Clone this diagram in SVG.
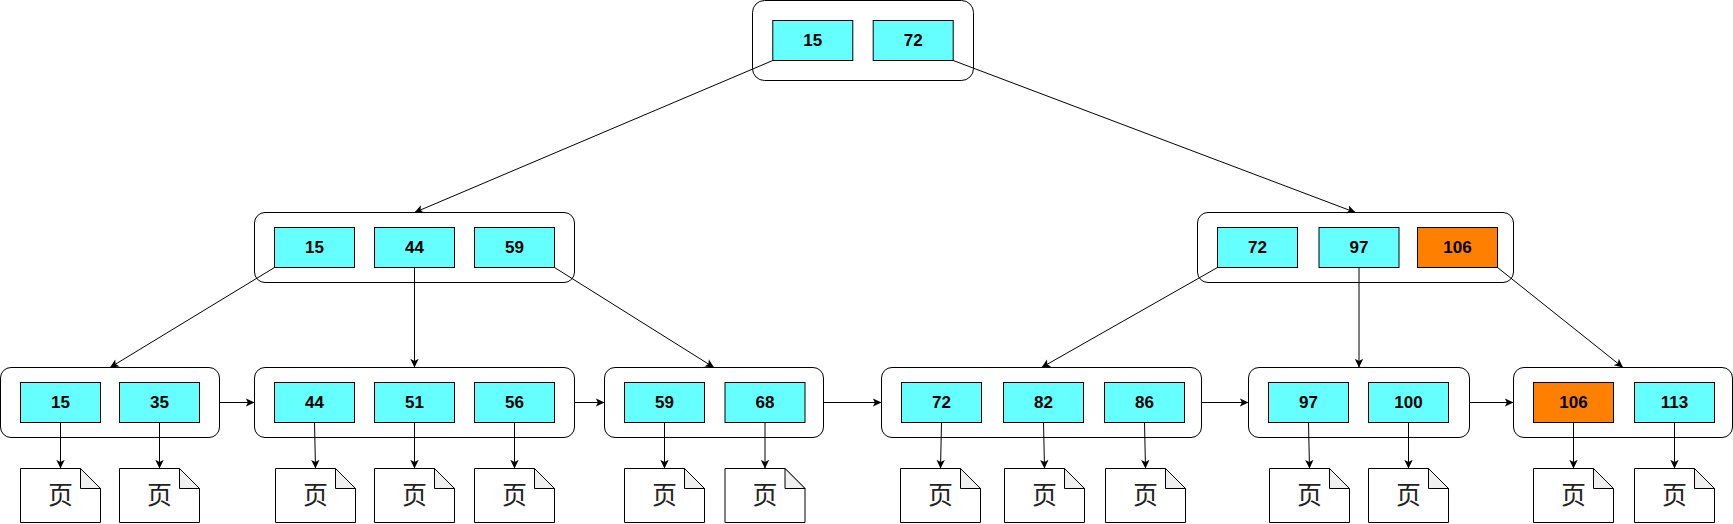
<svg xmlns="http://www.w3.org/2000/svg" width="1733" height="524" viewBox="0 0 1733 524">
<style>
.box{fill:#fff;stroke:#000;stroke-width:1}
.cell{stroke:#000;stroke-width:1}
.c{fill:#66ffff}
.o{fill:#ff8000}
.num{font:bold 17px "Liberation Sans",Arial,sans-serif;text-anchor:middle;fill:#000}
.pg{fill:#fff;stroke:#000;stroke-width:1}
.fold{fill:#f0f0f0;stroke:#000;stroke-width:1}
.ye{font:400 25px "Noto Sans CJK SC","Noto Sans CJK JP",sans-serif;text-anchor:middle;fill:#222}
.ln{fill:none;stroke:#000;stroke-width:1;marker-end:url(#a)}
</style>
<defs>
<marker id="a" markerUnits="userSpaceOnUse" markerWidth="10" markerHeight="10" viewBox="0 0 10 10" refX="9" refY="5" orient="auto"><path d="M9 5L0.3 0.8L2.4 5L0.3 9.2Z" fill="#000"/></marker>
<g id="page"><path class="pg" d="M0 0H60L80 20V54H0Z"/><path class="fold" d="M60 0V20H80Z"/></g>
</defs>
<rect width="1733" height="524" fill="#fff"/>
<g id="n-root"><rect class="box" x="752.5" y="0.5" width="221" height="80" rx="12"/>
<rect class="cell c" x="772.8" y="20.5" width="80" height="40"/><text class="num" x="812.8" y="46">15</text>
<rect class="cell c" x="873.2" y="20.5" width="80" height="40"/><text class="num" x="913.2" y="46">72</text></g>
<g id="n-midL"><rect class="box" x="254.5" y="212.5" width="320" height="70" rx="10.5"/>
<rect class="cell c" x="274.5" y="227.5" width="80" height="40"/><text class="num" x="314.5" y="253">15</text>
<rect class="cell c" x="374.5" y="227.5" width="80" height="40"/><text class="num" x="414.5" y="253">44</text>
<rect class="cell c" x="474.5" y="227.5" width="80" height="40"/><text class="num" x="514.5" y="253">59</text></g>
<g id="n-midR"><rect class="box" x="1197.5" y="212.5" width="316" height="70" rx="10.5"/>
<rect class="cell c" x="1217.5" y="227.5" width="80" height="40"/><text class="num" x="1257.5" y="253">72</text>
<rect class="cell c" x="1319" y="227.5" width="80" height="40"/><text class="num" x="1359" y="253">97</text>
<rect class="cell o" x="1417.5" y="227.5" width="80" height="40"/><text class="num" x="1457.5" y="253">106</text></g>
<g id="n-leaf1"><rect class="box" x="0.5" y="367.5" width="219" height="70" rx="10.5"/>
<rect class="cell c" x="20.5" y="382.5" width="80" height="40"/><text class="num" x="60.5" y="408">15</text>
<rect class="cell c" x="119.5" y="382.5" width="80" height="40"/><text class="num" x="159.5" y="408">35</text></g>
<g id="n-leaf2"><rect class="box" x="254.5" y="367.5" width="320" height="70" rx="10.5"/>
<rect class="cell c" x="274.5" y="382.5" width="80" height="40"/><text class="num" x="314.5" y="408">44</text>
<rect class="cell c" x="374.5" y="382.5" width="80" height="40"/><text class="num" x="414.5" y="408">51</text>
<rect class="cell c" x="474.5" y="382.5" width="80" height="40"/><text class="num" x="514.5" y="408">56</text></g>
<g id="n-leaf3"><rect class="box" x="604.5" y="367.5" width="219" height="70" rx="10.5"/>
<rect class="cell c" x="624.5" y="382.5" width="80" height="40"/><text class="num" x="664.5" y="408">59</text>
<rect class="cell c" x="725" y="382.5" width="80" height="40"/><text class="num" x="765" y="408">68</text></g>
<g id="n-leaf4"><rect class="box" x="881.5" y="367.5" width="320" height="70" rx="10.5"/>
<rect class="cell c" x="901.5" y="382.5" width="80" height="40"/><text class="num" x="941.5" y="408">72</text>
<rect class="cell c" x="1003.5" y="382.5" width="80" height="40"/><text class="num" x="1043.5" y="408">82</text>
<rect class="cell c" x="1104.5" y="382.5" width="80" height="40"/><text class="num" x="1144.5" y="408">86</text></g>
<g id="n-leaf5"><rect class="box" x="1248.5" y="367.5" width="221" height="70" rx="10.5"/>
<rect class="cell c" x="1268.5" y="382.5" width="80" height="40"/><text class="num" x="1308.5" y="408">97</text>
<rect class="cell c" x="1368.5" y="382.5" width="80" height="40"/><text class="num" x="1408.5" y="408">100</text></g>
<g id="n-leaf6"><rect class="box" x="1513.5" y="367.5" width="219" height="70" rx="10.5"/>
<rect class="cell o" x="1533.5" y="382.5" width="80" height="40"/><text class="num" x="1573.5" y="408">106</text>
<rect class="cell c" x="1634.5" y="382.5" width="80" height="40"/><text class="num" x="1674.5" y="408">113</text></g>
<g id="connectors">
<path class="ln" d="M772.8 60.5L414.5 212.5"/>
<path class="ln" d="M953.2 60.5L1355.5 212.5"/>
<path class="ln" d="M274.5 267.5L110 367.5"/>
<path class="ln" d="M414.5 267.5V367.5"/>
<path class="ln" d="M554.5 267.5L714 367.5"/>
<path class="ln" d="M1217.5 267.5L1041.5 367.5"/>
<path class="ln" d="M1359 267.5V367.5"/>
<path class="ln" d="M1497.5 267.5L1623 367.5"/>
<path class="ln" d="M219.5 402.5H254.5"/>
<path class="ln" d="M574.5 402.5H604.5"/>
<path class="ln" d="M823.5 402.5H881.5"/>
<path class="ln" d="M1201.5 402.5H1248.5"/>
<path class="ln" d="M1469.5 402.5H1513.5"/>
<path class="ln" d="M60.5 422.5V468.5"/>
<path class="ln" d="M159.5 422.5V468.5"/>
<path class="ln" d="M314.5 422.5L315.5 468.5"/>
<path class="ln" d="M414.5 422.5V468.5"/>
<path class="ln" d="M514.5 422.5V468.5"/>
<path class="ln" d="M664.5 422.5V468.5"/>
<path class="ln" d="M765 422.5V468.5"/>
<path class="ln" d="M941.5 422.5L940.5 468.5"/>
<path class="ln" d="M1043.5 422.5L1044.5 468.5"/>
<path class="ln" d="M1144.5 422.5L1145.5 468.5"/>
<path class="ln" d="M1308.5 422.5L1309.5 468.5"/>
<path class="ln" d="M1408.5 422.5V468.5"/>
<path class="ln" d="M1573.5 422.5V468.5"/>
<path class="ln" d="M1674.5 422.5V468.5"/>
</g>
<g id="p1"><use href="#page" x="20.5" y="468.5"/><text class="ye" x="60.5" y="504">页</text></g>
<g id="p2"><use href="#page" x="119.5" y="468.5"/><text class="ye" x="159.5" y="504">页</text></g>
<g id="p3"><use href="#page" x="275.5" y="468.5"/><text class="ye" x="315.5" y="504">页</text></g>
<g id="p4"><use href="#page" x="374.5" y="468.5"/><text class="ye" x="414.5" y="504">页</text></g>
<g id="p5"><use href="#page" x="474.5" y="468.5"/><text class="ye" x="514.5" y="504">页</text></g>
<g id="p6"><use href="#page" x="624.5" y="468.5"/><text class="ye" x="664.5" y="504">页</text></g>
<g id="p7"><use href="#page" x="725" y="468.5"/><text class="ye" x="765" y="504">页</text></g>
<g id="p8"><use href="#page" x="900.5" y="468.5"/><text class="ye" x="940.5" y="504">页</text></g>
<g id="p9"><use href="#page" x="1004.5" y="468.5"/><text class="ye" x="1044.5" y="504">页</text></g>
<g id="p10"><use href="#page" x="1105.5" y="468.5"/><text class="ye" x="1145.5" y="504">页</text></g>
<g id="p11"><use href="#page" x="1269.5" y="468.5"/><text class="ye" x="1309.5" y="504">页</text></g>
<g id="p12"><use href="#page" x="1368.5" y="468.5"/><text class="ye" x="1408.5" y="504">页</text></g>
<g id="p13"><use href="#page" x="1533.5" y="468.5"/><text class="ye" x="1573.5" y="504">页</text></g>
<g id="p14"><use href="#page" x="1634.5" y="468.5"/><text class="ye" x="1674.5" y="504">页</text></g>
</svg>
